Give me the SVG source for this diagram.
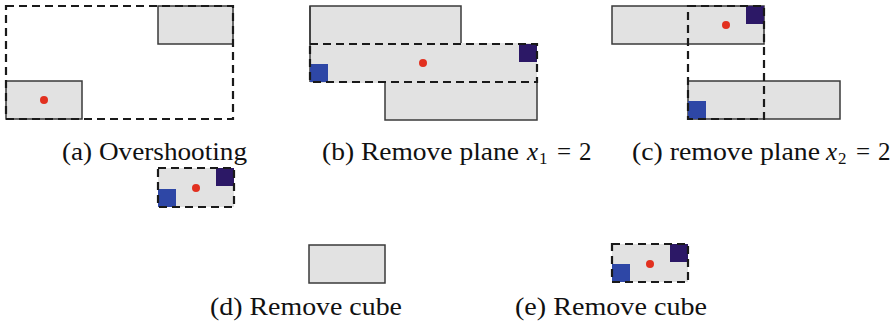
<svg xmlns="http://www.w3.org/2000/svg" width="891" height="329" viewBox="0 0 891 329">
<style>
.g{fill:#e2e2e2;stroke:#3a3a3a;stroke-width:1.5}
.gf{fill:#e2e2e2;stroke:none}
.d{fill:none;stroke:#1a1a1a;stroke-width:2.2;stroke-dasharray:8,5}
.b{fill:#2e47a6}
.p{fill:#2c1866}
.r{fill:#e2301f}
.t{font-family:"Liberation Serif","Times New Roman",serif;font-size:25px;fill:#111}
.i{font-style:italic}
.s{font-size:17px}
</style>
<rect width="891" height="329" fill="#fff"/>
<g id="a">
<rect class="g" x="158" y="6" width="75" height="38"/>
<rect class="g" x="6" y="81" width="76" height="38"/>
<circle class="r" cx="44" cy="100" r="4"/>
<rect class="d" x="6" y="6" width="227" height="113"/>
<text class="t" x="62" y="160" textLength="185" lengthAdjust="spacingAndGlyphs">(a) Overshooting</text>
</g>
<g id="b">
<rect class="g" x="310" y="6" width="151" height="38"/>
<rect class="g" x="385" y="82" width="152" height="38"/>
<rect class="gf" x="310" y="43" width="227" height="40"/>
<line x1="310" y1="6" x2="310" y2="82" stroke="#3a3a3a" stroke-width="1.5"/>
<rect class="b" x="310" y="64" width="18" height="18"/>
<rect class="p" x="519" y="44" width="18" height="18"/>
<circle class="r" cx="423" cy="63" r="4"/>
<rect class="d" x="310" y="44" width="227" height="38"/>
<text class="t" x="322" y="160" textLength="197" lengthAdjust="spacingAndGlyphs">(b) Remove plane</text>
<text class="t i" x="527" y="160">x</text>
<text class="t s" x="539" y="164">1</text>
<text class="t" x="557" y="160">=</text>
<text class="t" x="579" y="160">2</text>
</g>
<g id="c">
<rect class="g" x="612" y="6" width="152" height="38"/>
<rect class="g" x="688" y="81" width="152" height="38"/>
<rect class="p" x="746" y="6" width="18" height="18"/>
<rect class="b" x="688" y="101" width="18" height="18"/>
<circle class="r" cx="726" cy="25" r="4"/>
<rect class="d" x="688" y="6" width="76" height="113"/>
<text class="t" x="632" y="160" textLength="188" lengthAdjust="spacingAndGlyphs">(c) remove plane</text>
<text class="t i" x="826" y="160">x</text>
<text class="t s" x="838" y="164">2</text>
<text class="t" x="856" y="160">=</text>
<text class="t" x="878" y="160">2</text>
</g>
<g id="d1">
<rect class="gf" x="158" y="168" width="76" height="39"/>
<rect class="b" x="158" y="189" width="18" height="18"/>
<rect class="p" x="216" y="168" width="18" height="18"/>
<circle class="r" cx="196" cy="188" r="4"/>
<rect class="d" x="158" y="168" width="76" height="39"/>
</g>
<g id="d">
<rect class="g" x="309" y="245" width="76" height="38"/>
<text class="t" x="210" y="315" textLength="192" lengthAdjust="spacingAndGlyphs">(d) Remove cube</text>
</g>
<g id="e">
<rect class="gf" x="612" y="244" width="76" height="38"/>
<rect class="b" x="612" y="264" width="18" height="18"/>
<rect class="p" x="670" y="244" width="18" height="18"/>
<circle class="r" cx="650" cy="264" r="4"/>
<rect class="d" x="612" y="244" width="76" height="38"/>
<text class="t" x="515" y="315" textLength="192" lengthAdjust="spacingAndGlyphs">(e) Remove cube</text>
</g>
</svg>
